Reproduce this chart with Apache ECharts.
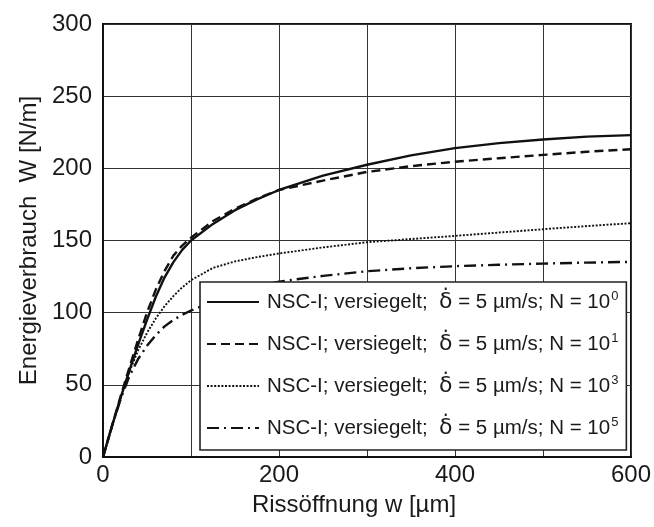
<!DOCTYPE html>
<html>
<head>
<meta charset="utf-8">
<script src="https://cdn.jsdelivr.net/npm/echarts@6/dist/echarts.min.js"></script>
<style>
html,body{margin:0;padding:0;background:#fff;}
#chart{width:654px;height:527px;}
</style>
</head>
<body>
<div id="chart"></div>
<script>
// Crack opening w [µm]
var crackOpening = [0, 10, 20, 30, 40, 50, 60, 70, 80, 90, 100, 125, 150, 175, 200, 250, 300, 350, 400, 450, 500, 550, 600];
// Energy consumption W [N/m]
var energyN1e0 = [0, 21, 41, 60, 78, 95, 111, 124.5, 135, 143.5, 150, 161.5, 171, 178.5, 185, 195, 202.5, 209, 214, 217.5, 220, 222, 223];
var energyN1e1 = [0, 21, 42, 62, 81.5, 100, 116, 129, 139.5, 146.5, 152, 163.5, 172, 179, 185, 191.5, 197.5, 201.5, 204.6, 207, 209.3, 211.5, 213.2];
var energyN1e3 = [0, 21, 41, 59, 74, 86, 96, 104.5, 111.5, 117.5, 122.5, 131, 135.5, 138.5, 141, 145.2, 148.8, 151, 153.2, 155.5, 157.8, 160, 162];
var energyN1e5 = [0, 21, 40, 56, 68, 77, 84.5, 90.5, 95, 98.5, 101.5, 107.5, 113, 118, 121.5, 125.5, 128.7, 130.8, 132.2, 133.2, 134, 134.7, 135.2];
var exponents = ['0', '1', '3', '5'];
var xTickLabels = ['0', '200', '400', '600'];
var yTickLabels = ['0', '50', '100', '150', '200', '250', '300'];
var xAxisTitle = 'Rissöffnung w [µm]';
var yAxisTitle = 'Energieverbrauch  W [N/m]';

function pairs(ys) { return crackOpening.map(function (x, i) { return [x, ys[i]]; }); }
var seriesNames = exponents.map(function (e) { return 'NSC-I; versiegelt;  \u03B4\u0307 = 5 µm/s; N = 10^' + e; });
var values = [energyN1e0, energyN1e1, energyN1e3, energyN1e5];
var styles = [
  {type: 'solid', width: 2.4},
  {type: [9, 5], width: 2.4},
  {type: [2, 1.6], width: 1.9},
  {type: [12, 5, 2, 5], width: 2.4}
];
var FONT = '"Liberation Sans", Arial, sans-serif';

var chart = echarts.init(document.getElementById('chart'));
chart.setOption({
  animation: false,
  backgroundColor: '#fff',
  grid: {left: 103, right: 22, top: 24, bottom: 70, show: true, borderColor: '#111', borderWidth: 2},
  xAxis: {
    type: 'value', min: 0, max: 600, interval: 100,
    name: xAxisTitle, nameLocation: 'middle', nameGap: 36,
    nameTextStyle: {fontFamily: FONT, fontSize: 24, color: '#1a1a1a', padding: [0, 26, 0, 0]},
    axisLine: {show: true, lineStyle: {color: '#111', width: 2}},
    axisTick: {show: false},
    axisLabel: {
      fontFamily: FONT, fontSize: 24, color: '#1a1a1a', margin: 6,
      formatter: function (v) { var s = String(v); return xTickLabels.indexOf(s) >= 0 ? s : ''; }
    },
    splitLine: {show: true, lineStyle: {color: '#333', width: 1}}
  },
  yAxis: {
    type: 'value', min: 0, max: 300, interval: 50,
    name: yAxisTitle, nameLocation: 'middle', nameGap: 60, nameRotate: 90,
    nameTextStyle: {fontFamily: FONT, fontSize: 24, color: '#1a1a1a'},
    axisLine: {show: true, lineStyle: {color: '#111', width: 2}},
    axisTick: {show: false},
    axisLabel: {
      fontFamily: FONT, fontSize: 24, color: '#1a1a1a', margin: 11,
      formatter: function (v) { var s = String(v); return yTickLabels.indexOf(s) >= 0 ? s : ''; }
    },
    splitLine: {show: true, lineStyle: {color: '#333', width: 1}}
  },
  legend: {
    orient: 'vertical', left: 200, top: 282,
    padding: [8, 8, 10, 6], itemGap: 18,
    itemWidth: 52, itemHeight: 14,
    backgroundColor: '#fff', borderColor: '#222', borderWidth: 1.6,
    itemStyle: {opacity: 0, borderWidth: 0},
    data: seriesNames,
    formatter: function (name) {
      var parts = name.split('^');
      var base = parts[0].replace('\u03B4\u0307', '{d|\u03B4\u0307}');
      return base + '{sup|' + parts[1] + '}';
    },
    textStyle: {
      fontFamily: FONT, fontSize: 20.5, color: '#1a1a1a', lineHeight: 24, padding: [0, 0, 0, 3],
      rich: {
        d: {fontFamily: '"DejaVu Sans", sans-serif', fontSize: 22, lineHeight: 24, color: '#1a1a1a'},
        sup: {fontFamily: FONT, fontSize: 13, lineHeight: 24, verticalAlign: 'top', color: '#1a1a1a', padding: [0, 0, 0, 1]}
      }
    }
  },
  series: values.map(function (ys, i) {
    return {
      name: seriesNames[i], type: 'line', data: pairs(ys),
      symbol: 'none', smooth: false,
      lineStyle: {color: '#111', width: styles[i].width, type: styles[i].type},
      itemStyle: {color: '#111'}
    };
  })
});
</script>
</body>
</html>
